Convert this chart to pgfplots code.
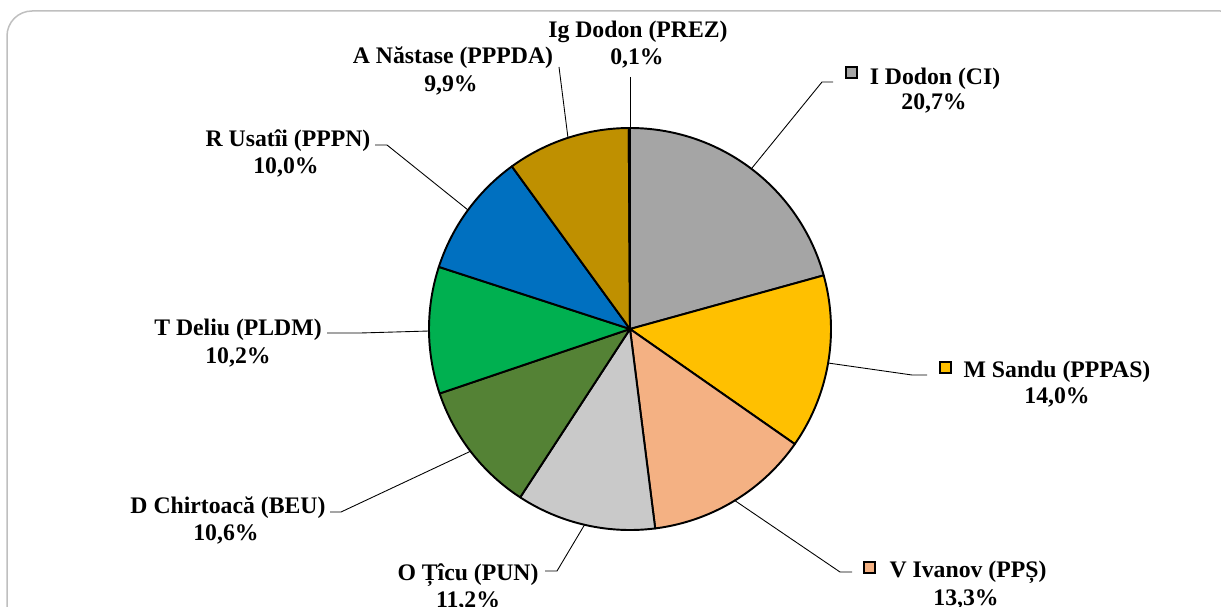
\documentclass[border=0pt]{standalone}
\usepackage{pgfplots}
\usepackage{pgfplotstable}
\pgfplotsset{compat=1.18}
\usepackage{fontspec}
\setmainfont{Liberation Serif}

\definecolor{cI}{HTML}{A5A5A5}
\definecolor{cM}{HTML}{FFC000}
\definecolor{cV}{HTML}{F4B183}
\definecolor{cO}{HTML}{C9C9C9}
\definecolor{cD}{HTML}{548235}
\definecolor{cT}{HTML}{00B050}
\definecolor{cR}{HTML}{0070C0}
\definecolor{cA}{HTML}{BF9000}
\definecolor{cG}{HTML}{000000}
\definecolor{frame}{HTML}{BFBFBF}

% shares in %, clockwise from 12 o'clock
\pgfplotstableread{
share col
20.7  cI
14.0  cM
13.3  cV
11.2  cO
10.6  cD
10.2  cT
10.0  cR
9.9   cA
0.1   cG
}\piedata

\newcommand{\lbl}{\bfseries\fontsize{13.5}{15.4}\selectfont}

\begin{document}
\begin{tikzpicture}
\path[use as bounding box] (0,0) rectangle (24.42cm,12.12cm);
\clip (0,0) rectangle (24.42cm,12.12cm);
\begin{axis}[at={(0,0)}, anchor=south west, scale only axis,
  width=24.42cm, height=12.12cm,
  xmin=0, xmax=1221, ymin=0, ymax=606, y dir=reverse,
  hide axis, clip=false]

% outer frame
\draw[frame, line width=0.3mm, rounded corners=5mm]
  (axis cs:7,11) rectangle (axis cs:1245,680);

% slices
\def\cum{0}
\pgfplotsforeachungrouped \i in {0,...,8} {
  \pgfplotstablegetelem{\i}{share}\of\piedata \let\v\pgfplotsretval
  \pgfplotstablegetelem{\i}{col}\of\piedata \let\c\pgfplotsretval
  \pgfmathsetmacro\a{90-3.6*\cum}
  \pgfmathsetmacro\b{90-3.6*(\cum+\v)}
  \edef\temp{\noexpand\addplot[fill=\c, draw=black, line width=1.1pt,
     line join=round, domain=\b:\a, samples=80, variable=\noexpand\t]
     ({630+201*cos(\noexpand\t)},{329-201*sin(\noexpand\t)})
     -- (axis cs:630,329) -- cycle;}
  \temp
  \pgfmathsetmacro\cum{\cum+\v}
}

% leader lines
\draw[line width=0.5pt] (axis cs:630,77) -- (axis cs:630,129);
\draw[line width=0.5pt] (axis cs:559,67) -- (axis cs:568,138);
\draw[line width=0.5pt] (axis cs:752,168) -- (axis cs:822,82) -- (axis cs:833,82);
\draw[line width=0.5pt] (axis cs:828,363) -- (axis cs:912,375) -- (axis cs:927,375);
\draw[line width=0.5pt] (axis cs:734,500) -- (axis cs:840,572) -- (axis cs:852,572);
\draw[line width=0.5pt] (axis cs:585,524) -- (axis cs:557,571) -- (axis cs:545,571);
\draw[line width=0.5pt] (axis cs:471,451) -- (axis cs:341,512) -- (axis cs:330,512);
\draw[line width=0.5pt] (axis cs:429,331) -- (axis cs:360,333) -- (axis cs:327,333);
\draw[line width=0.5pt] (axis cs:468,210) -- (axis cs:387,145) -- (axis cs:375,145);

% legend keys
\draw[fill=cI, line width=0.8pt] (axis cs:846,67) rectangle (axis cs:857,78);
\draw[fill=cM, line width=0.8pt] (axis cs:940,362) rectangle (axis cs:951,373);
\draw[fill=cV, line width=0.8pt] (axis cs:864,562) rectangle (axis cs:875,573);

% labels
\node[anchor=base, font=\lbl] at (axis cs:638,38) {Ig Dodon (PREZ)};
\node[anchor=base, font=\lbl] at (axis cs:637,65) {0,1\%};
\node[anchor=base, font=\lbl] at (axis cs:453,64) {A Năstase (PPPDA)};
\node[anchor=base, font=\lbl] at (axis cs:451,92) {9,9\%};
\node[anchor=base, font=\lbl] at (axis cs:935,85) {I Dodon (CI)};
\node[anchor=base, font=\lbl] at (axis cs:934,110) {20,7\%};
\node[anchor=base, font=\lbl] at (axis cs:1057,377) {M Sandu (PPPAS)};
\node[anchor=base, font=\lbl] at (axis cs:1057,403) {14,0\%};
\node[anchor=base, font=\lbl] at (axis cs:968,577) {V Ivanov (PPȘ)};
\node[anchor=base, font=\lbl] at (axis cs:966,605) {13,3\%};
\node[anchor=base, font=\lbl] at (axis cs:468,580) {O Țîcu (PUN)};
\node[anchor=base, font=\lbl] at (axis cs:468,607) {11,2\%};
\node[anchor=base, font=\lbl] at (axis cs:228,513) {D Chirtoacă (BEU)};
\node[anchor=base, font=\lbl] at (axis cs:226,540) {10,6\%};
\node[anchor=base, font=\lbl] at (axis cs:238,335) {T Deliu (PLDM)};
\node[anchor=base, font=\lbl] at (axis cs:238,363) {10,2\%};
\node[anchor=base, font=\lbl] at (axis cs:288,146) {R Usatîi (PPPN)};
\node[anchor=base, font=\lbl] at (axis cs:286,173) {10,0\%};
\end{axis}
\end{tikzpicture}
\end{document}
